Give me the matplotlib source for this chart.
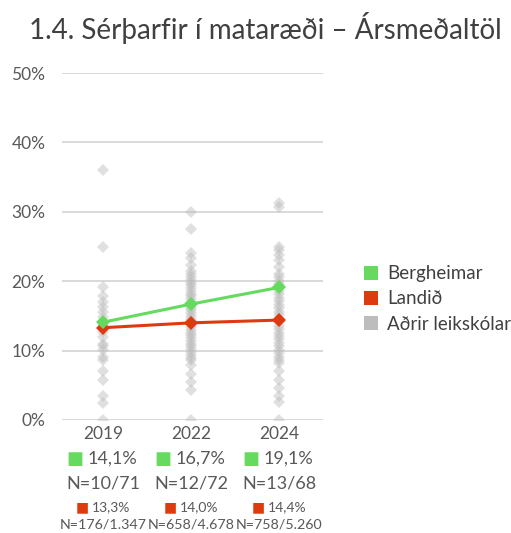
import numpy as np
import matplotlib
matplotlib.use("Agg")
import matplotlib.pyplot as plt
from matplotlib.lines import Line2D

plt.rcParams['font.family'] = ['Lato', 'DejaVu Sans']

# gögn
ar = ['2019', '2022', '2024']
bergheimar = [14.1, 16.7, 19.1]
landid = [13.3, 14.0, 14.4]
berg_n = ['N=10/71', 'N=12/72', 'N=13/68']
land_n = ['N=176/1.347', 'N=658/4.678', 'N=758/5.260']

adrir_2019 = [36.0, 25.0, 19.2, 17.8, 17.0, 16.3, 15.6, 14.9, 13.9, 12.7,
              12.0, 11.0, 10.6, 10.1, 9.1, 8.6, 7.0, 5.8, 3.4, 2.4, 0.0]
adrir_2022 = [30.0, 27.5, 24.0, 23.3, 22.3, 21.4, 21.0, 20.6, 20.2, 19.8,
              19.4, 19.0, 18.6, 18.2, 17.8, 17.4, 17.0, 16.6, 16.2, 15.8,
              15.4, 15.0, 14.6, 14.2, 13.8, 13.4, 13.0, 12.6, 12.2, 11.8,
              11.4, 11.0, 10.6, 10.2, 9.8, 9.4, 9.0, 8.6, 7.9, 6.7, 5.5,
              4.3, 0.0]
adrir_2024 = [31.2, 30.7, 25.0, 24.5, 23.8, 23.1, 22.1, 21.1, 20.6, 20.1,
              19.6, 19.1, 18.6, 18.1, 17.6, 17.1, 16.6, 16.1, 15.6, 15.1,
              14.6, 14.1, 13.6, 13.1, 12.6, 12.1, 11.6, 11.1, 10.6, 10.1,
              9.6, 9.1, 8.7, 8.2, 7.0, 5.8, 4.6, 3.4, 2.6, 0.0]
adrir = [adrir_2019, adrir_2022, adrir_2024]

GREEN = '#66DA5E'
RED = '#DE3A10'
GREY = '#BDBDBD'
TXT = '#595959'

fig = plt.figure(figsize=(5.11, 5.33), dpi=100)
ax = fig.add_axes([62 / 511, 1 - 420 / 533, 261 / 511, 347 / 533])

x = np.arange(len(ar))
for i, vals in enumerate(adrir):
    ax.plot([x[i]] * len(vals), vals, linestyle='none', marker='D',
            markersize=6.5, color='#bcbcbc', alpha=0.45, markeredgewidth=0,
            zorder=2)

ax.plot(x, landid, color=RED, linewidth=2.2, marker='D', markersize=7.5,
        markeredgewidth=0, zorder=4)
ax.plot(x, bergheimar, color=GREEN, linewidth=2.2, marker='D', markersize=7.5,
        markeredgewidth=0, zorder=5)

ax.set_ylim(0, 50)
ax.set_xlim(-0.47, 2.5)
ax.set_yticks(range(0, 51, 10))
ax.set_yticklabels([f'{v}%' for v in range(0, 51, 10)], fontsize=12.5, color=TXT)
ax.set_xticks(x)
ax.set_xticklabels(ar, fontsize=12.5, color=TXT)
ax.tick_params(length=0, axis='y', pad=12)
ax.tick_params(length=0, axis='x', pad=4)
ax.grid(axis='y', color='#d9d9d9', linewidth=1.4, zorder=0)
ax.set_axisbelow(True)
for s in ax.spines.values():
    s.set_visible(False)

# texti undir ásnum
for i in range(len(ar)):
    ax.annotate('■', xy=(x[i], -0.112), xycoords=('data', 'axes fraction'),
                xytext=(-28, 0), textcoords='offset pixels', ha='center',
                va='center', fontsize=13, color=GREEN, family='DejaVu Sans')
    ax.annotate(f'{bergheimar[i]:.1f}%'.replace('.', ','), xy=(x[i], -0.112),
                xycoords=('data', 'axes fraction'), xytext=(-16, 0),
                textcoords='offset pixels', ha='left', va='center',
                fontsize=13, color=TXT)
    ax.annotate(berg_n[i], xy=(x[i], -0.182), xycoords=('data', 'axes fraction'),
                ha='center', va='center', fontsize=13, color=TXT)
    ax.annotate('■', xy=(x[i], -0.251), xycoords=('data', 'axes fraction'),
                xytext=(-21, 0), textcoords='offset pixels', ha='center',
                va='center', fontsize=10, color=RED, family='DejaVu Sans')
    ax.annotate(f'{landid[i]:.1f}%'.replace('.', ','), xy=(x[i], -0.251),
                xycoords=('data', 'axes fraction'), xytext=(-11, 0),
                textcoords='offset pixels', ha='left', va='center',
                fontsize=10, color=TXT)
    ax.annotate(land_n[i], xy=(x[i], -0.30), xycoords=('data', 'axes fraction'),
                ha='center', va='center', fontsize=10.3, color=TXT)

fig.text(265 / 511, 1 - 28 / 533, '1.4. Sérþarfir í mataræði – Ársmeðaltöl',
         ha='center', va='center', fontsize=20, color='#404040')

handles = [Line2D([], [], linestyle='none', marker='s', markersize=10,
                  color=c, markeredgewidth=0) for c in (GREEN, RED, GREY)]
fig.legend(handles, ['Bergheimar', 'Landið', 'Aðrir leikskólar'],
           loc='center left', bbox_to_anchor=(347 / 511, 1 - 299 / 533),
           frameon=False, fontsize=13.5, labelcolor='#404040', handlelength=0.8,
           handletextpad=0.45, labelspacing=0.45)

fig.savefig('out.png', dpi=100)
